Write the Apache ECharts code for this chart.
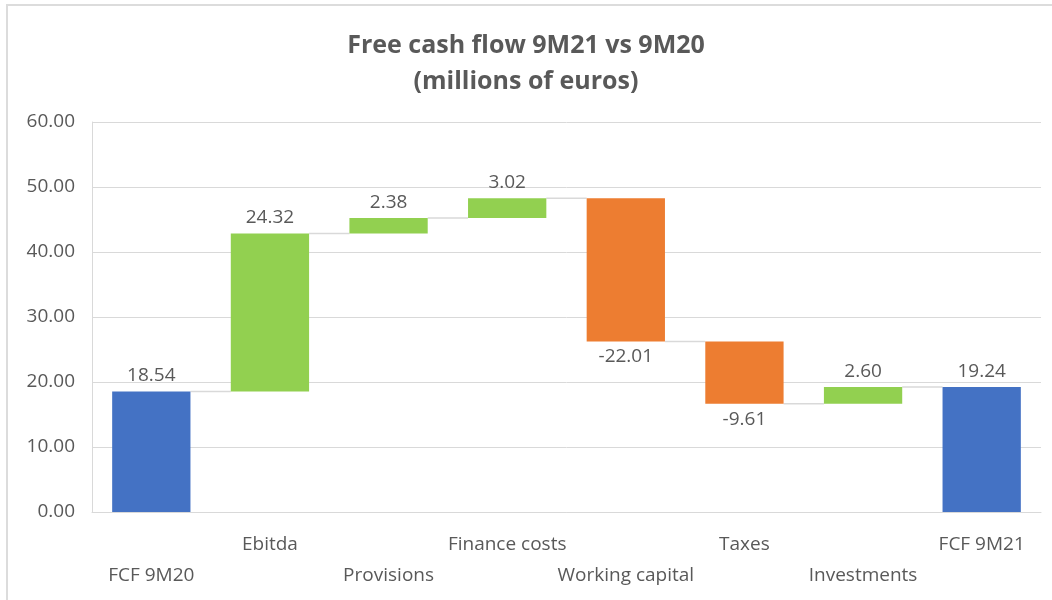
<!DOCTYPE html>
<html>
<head>
<meta charset="utf-8">
<script src="https://cdn.jsdelivr.net/npm/echarts@6/dist/echarts.min.js"></script>
<style>
  html, body { margin: 0; padding: 0; background: #fff; }
  #main { position: absolute; left: 0; top: 0; width: 1052px; height: 600px; }
  #frame { position: absolute; left: 6px; top: 4px; right: 0; bottom: 0; border-top: 2px solid #dcdcdc; border-left: 2px solid #dcdcdc; pointer-events: none; }
</style>
</head>
<body>
<div id="main"></div>
<div id="frame"></div>
<script>
// waterfall data
var categories = ['FCF 9M20', 'Ebitda', 'Provisions', 'Finance costs', 'Working capital', 'Taxes', 'Investments', 'FCF 9M21'];
var changes = [18.54, 24.32, 2.38, 3.02, -22.01, -9.61, 2.60, 19.24];
var isTotal = [true, false, false, false, false, false, false, true];
var yTicks = [0, 10, 20, 30, 40, 50, 60];

var BLUE = '#4472C4', GREEN = '#92D050', ORANGE = '#ED7D31';

// running totals -> invisible base + visible bar
var baseVals = [], barVals = [], levels = [];
var run = 0;
for (var i = 0; i < changes.length; i++) {
	var c = changes[i];
	if (isTotal[i]) {
		baseVals.push(0);
		barVals.push({ value: c, itemStyle: { color: BLUE } });
		run = c;
	} else if (c >= 0) {
		baseVals.push(run);
		barVals.push({ value: c, itemStyle: { color: GREEN } });
		run = run + c;
	} else {
		baseVals.push(run + c);
		barVals.push({ value: -c, itemStyle: { color: ORANGE }, label: { position: 'bottom' } });
		run = run + c;
	}
	levels.push(+run.toFixed(2));
}
var connData = [];
for (var j = 0; j < categories.length - 1; j++) {
	connData.push([j, levels[j]]);
}

var myChart = echarts.init(document.getElementById('main'));
var labelFont = '"Open Sans", "Noto Sans", sans-serif';
var option = {
	animation: false,
	title: {
		text: 'Free cash flow 9M21 vs 9M20\n(millions of euros)',
		left: 'center',
		top: 23,
		textStyle: { color: '#595959', fontSize: 25, fontWeight: 'bold', fontFamily: labelFont, lineHeight: 36 }
	},
	grid: { left: 92, right: 11, top: 122, bottom: 88, containLabel: false },
	xAxis: {
		type: 'category',
		data: categories,
		axisLine: { lineStyle: { color: '#d9d9d9' } },
		axisTick: { show: false },
		axisLabel: {
			interval: 0,
			color: '#595959',
			fontSize: 19,
			fontFamily: labelFont,
			margin: 17,
			lineHeight: 31,
			formatter: function(v, idx) {
				return idx % 2 === 0 ? '\n' + v : v;
			}
		}
	},
	yAxis: {
		type: 'value',
		min: 0,
		max: yTicks[yTicks.length - 1],
		interval: 10,
		axisLine: { show: true, lineStyle: { color: '#d9d9d9' } },
		axisTick: { show: false },
		splitLine: { lineStyle: { color: '#d9d9d9' } },
		axisLabel: {
			color: '#595959',
			fontSize: 19,
			fontFamily: labelFont,
			margin: 17,
			formatter: function(v) { return v.toFixed(2); }
		}
	},
	series: [{
		type: 'bar',
		stack: 'wf',
		data: baseVals,
		itemStyle: { color: 'transparent' },
		barWidth: '66%',
		silent: true
	}, {
		type: 'bar',
		stack: 'wf',
		data: barVals,
		barWidth: '66%',
		label: {
			show: true,
			position: 'top',
			distance: 6,
			color: '#595959',
			fontSize: 19,
			fontFamily: labelFont,
			formatter: function(p) { return changes[p.dataIndex].toFixed(2); }
		}
	}, {
		type: 'custom',
		data: connData,
		z: 1,
		renderItem: function(params, api) {
			var idx = api.value(0);
			var lvl = api.value(1);
			var p1 = api.coord([idx, lvl]);
			var p2 = api.coord([idx + 1, lvl]);
			var band = api.size([1, 0])[0];
			var half = band * 0.33;
			return {
				type: 'line',
				shape: { x1: p1[0] + half, y1: p1[1], x2: p2[0] - half, y2: p2[1] },
				style: { stroke: '#d9d9d9', lineWidth: 1.5 }
			};
		}
	}]
};
myChart.setOption(option);
</script>
</body>
</html>
